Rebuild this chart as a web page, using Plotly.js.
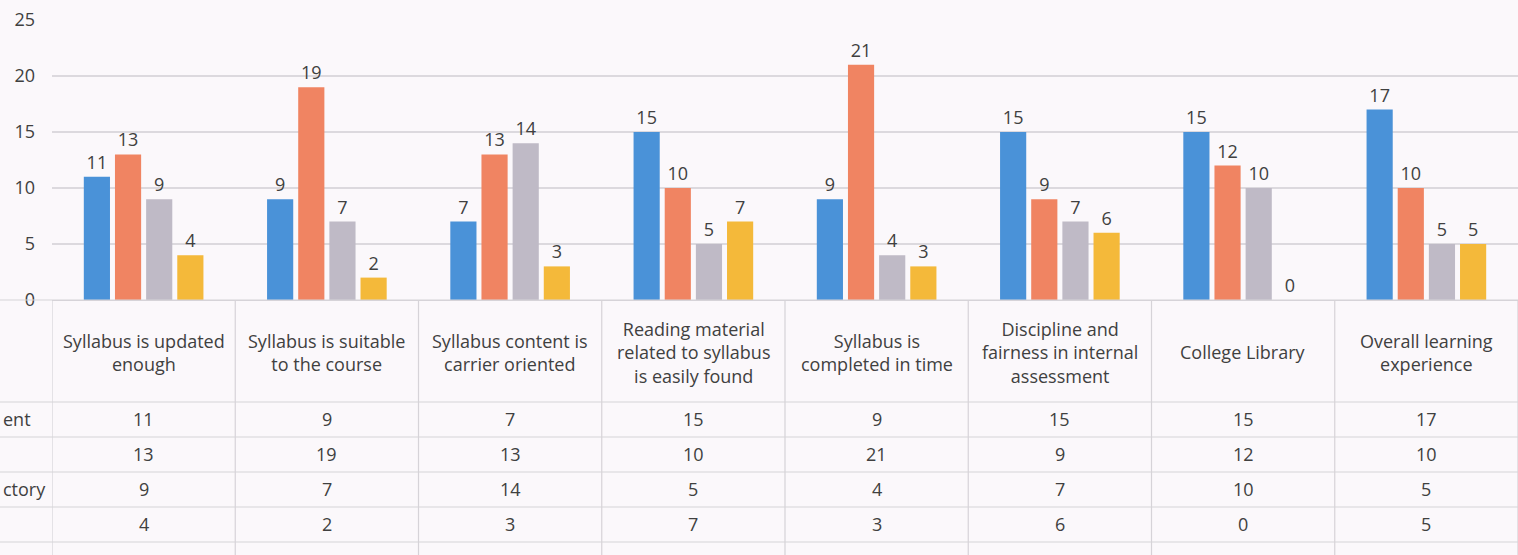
<!DOCTYPE html>
<html><head><meta charset="utf-8">
<script src="https://cdn.plot.ly/plotly-3.0.1.min.js"></script>
<style>html,body{margin:0;padding:0;background:#fbf8fb;}</style>
</head><body><div id="chart" style="width:1518px;height:555px;"></div>
<script>
const categories = ["Syllabus is updated<br>enough","Syllabus is suitable<br>to the course","Syllabus content is<br>carrier oriented","Reading material<br>related to syllabus<br>is easily found","Syllabus is<br>completed in time","Discipline and<br>fairness in internal<br>assessment","College Library","Overall learning<br>experience"];
const seriesNames = ["Excellent","Good","Satisfactory","Poor"];
// row headers as they remain visible at the cropped left edge of the picture
const rowHeaderVisible = ["ent","","ctory",""];
const excellent = [11,9,7,15,9,15,15,17];
const good = [13,19,13,10,21,9,12,10];
const satisfactory = [9,7,14,5,4,7,10,5];
const poor = [4,2,3,7,3,6,0,5];
const yTicks = [0,5,10,15,20,25];
const colors = ["#4a92d8","#f08462","#bfbac6","#f4b93a"];

const seriesValues = [excellent, good, satisfactory, poor];
const xs = categories.map((c,i)=>i);
const FONT = "'Open Sans', 'Noto Sans', sans-serif";
const traces = seriesValues.map((v,k)=>({
  type:"bar", x:xs, y:v, name:seriesNames[k],
  marker:{color:colors[k]}, text:v.map(String), textposition:"outside",
  textfont:{size:18,color:"#404040",family:FONT}, cliponaxis:false, hoverinfo:"skip"
}));

const W=1518, L=52, T=20, B=300, PH=B-T, PW=W-L;
const py = px => (B-px)/PH;
const pxX = px => (px-L)/PW;
const rowLines=[300,402,437,472,507,542];
const rowCenters=[419,454,489,524];
const shapes=[];
for(let i=0;i<=8;i++){
  shapes.push({type:"line",xref:"x",yref:"paper",x0:i-0.5,x1:i-0.5,y0:py(300),y1:py(555),line:{color:"#d6d3d8",width:1.2}});
}
rowLines.forEach(y=>shapes.push({type:"line",xref:"paper",yref:"paper",x0:pxX(0),x1:1,y0:py(y),y1:py(y),line:{color:"#d6d3d8",width:1.2}}));
const annotations=[];
categories.forEach((c,i)=>annotations.push({xref:"x",yref:"paper",x:i,y:py(352),text:c,showarrow:false,font:{size:18,color:"#404040",family:FONT},xanchor:"center",yanchor:"middle",align:"center"}));
seriesValues.forEach((v,k)=>{
  v.forEach((val,i)=>annotations.push({xref:"x",yref:"paper",x:i,y:py(rowCenters[k]),text:String(val),showarrow:false,font:{size:18,color:"#404040",family:FONT},xanchor:"center",yanchor:"middle"}));
  if(rowHeaderVisible[k]) annotations.push({xref:"paper",yref:"paper",x:pxX(1),y:py(rowCenters[k]),text:rowHeaderVisible[k],showarrow:false,font:{size:18,color:"#404040",family:FONT},xanchor:"left",yanchor:"middle"});
});

const layout={
  width:W,height:555,
  margin:{l:L,r:0,t:T,b:555-B,pad:0},
  paper_bgcolor:"#fbf8fb",plot_bgcolor:"#fbf8fb",
  font:{family:FONT,color:"#404040"},
  showlegend:false, barmode:"group", bargap:0.32, bargroupgap:0.16,
  xaxis:{range:[-0.5,7.5],showticklabels:false,showgrid:false,zeroline:false,showline:true,linecolor:"#d6d3d8",ticks:""},
  yaxis:{range:[0,25],tickvals:yTicks,ticktext:yTicks.map(String),showgrid:true,gridcolor:"#dcd9de",gridwidth:1.2,zeroline:false,showline:false,ticks:"",ticklabelstandoff:16,tickfont:{size:18,color:"#404040",family:FONT}},
  shapes:shapes, annotations:annotations
};
Plotly.newPlot("chart",traces,layout,{displayModeBar:false,staticPlot:true});
</script></body></html>
